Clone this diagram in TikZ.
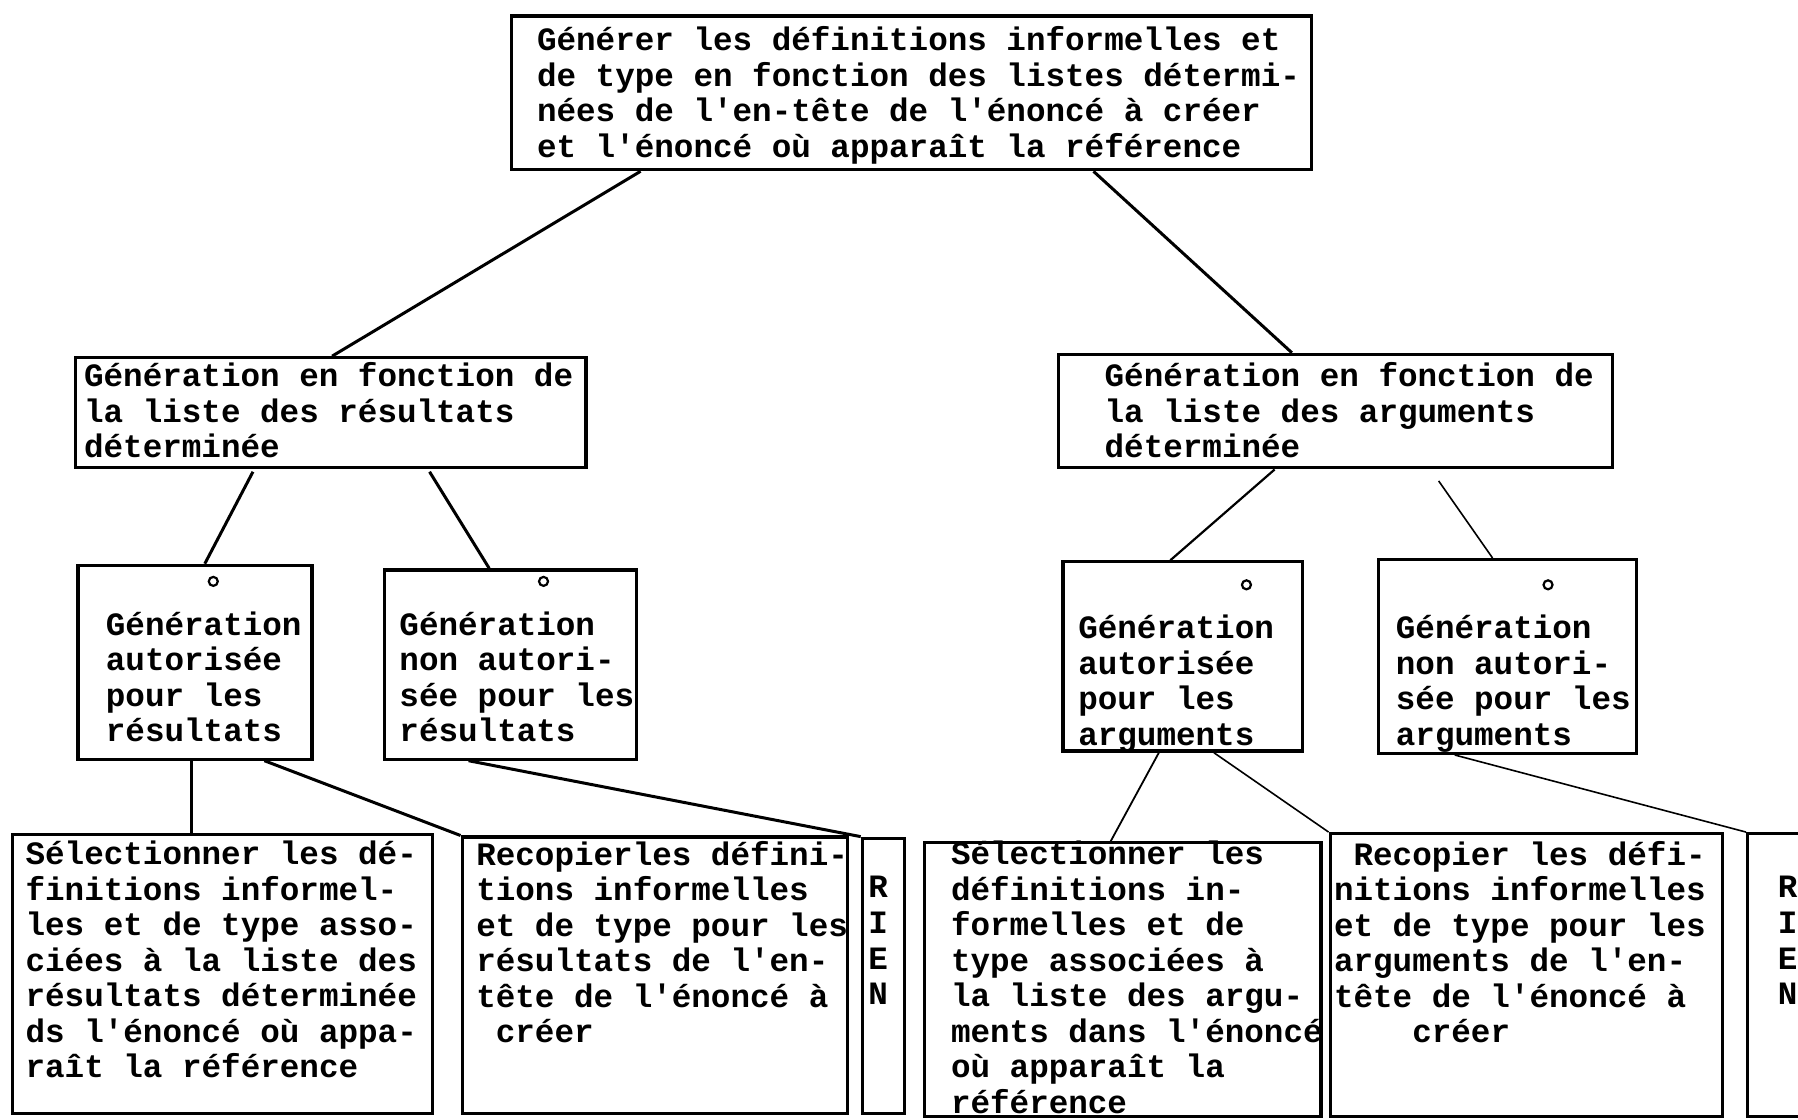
\documentclass[tikz,border=0pt]{standalone}
\usepackage{fontspec}
\usetikzlibrary{fit,calc}
\newfontfamily\tw{Liberation Mono}
\newcommand\twfont{\tw\bfseries\fontsize{16.3pt}{17.77pt}\selectfont}
\newcommand\tstrut{\rule{0pt}{21.2pt}}

\begin{document}
\begin{tikzpicture}[x=0.57335pt, y=-0.57335pt,
  box/.style={draw, line width=1.6pt, inner sep=0pt},
  txt/.style={anchor=north west, inner sep=0pt, align=left, font=\twfont,
    execute at begin node=\tstrut},
  link/.style={line width=1.5pt},
  thinlink/.style={line width=0.8pt},
  ring/.style={circle, draw, line width=1.1pt, minimum size=4.5pt, inner sep=0pt}]

\useasboundingbox (0,0) rectangle (1568,976);
\clip (0,0) rectangle (1568,976);

% ---- boxes ----
\node[box, fit={(446,14) (1144,148)}] (top) {};
\node[box, fit={(66,312) (511,408)}] (midl) {};
\node[box, fit={(923,309) (1406,408)}] (midr) {};

\node[box, fit={(68,493) (272,662)}] (autres) {};
\node[box, fit={(335,497) (555,662)}] (nonres) {};
\node[box, fit={(927,490) (1136,655)}] (autarg) {};
\node[box, fit={(1202,488) (1427,657)}] (nonarg) {};

\node[box, fit={(11,728) (377,971)}] (selres) {};
\node[box, fit={(403,730) (739,971)}] (copres) {};
\node[box, fit={(752,731) (789,971)}] (rienl) {};
\node[box, fit={(806,735) (1152,974)}] (selarg) {};
\node[box, fit={(1160,727) (1502,974)}] (coparg) {};
\node[box, fit={(1524,727) (1600,974)}] (rienr) {};

% ---- small rings ----
\node[ring] (r1) at (186,507) {};
\node[ring] (r2) at (474,507) {};
\node[ring] (r3) at (1087,510) {};
\node[ring] (r4) at (1350,510) {};

% ---- texts ----
\begin{scope}[shift={(0,9)}]
\node[txt] (t-top) at (468,14) {Générer les définitions informelles et\\
de type en fonction des listes détermi-\\
nées de l'en-tête de l'énoncé à créer\\
et l'énoncé où apparaît la référence};

\node[txt] (t-midl) at (73,307) {Génération en fonction de\\
la liste des résultats\\
déterminée};
\node[txt] (t-midr) at (963,307) {Génération en fonction de\\
la liste des arguments\\
déterminée};

\node[txt] (t-autres) at (92,524) {Génération\\autorisée\\pour les\\résultats};
\node[txt] (t-nonres) at (348,524) {Génération\\non autori-\\sée pour les\\résultats};
\node[txt] (t-autarg) at (940,527) {Génération\\autorisée\\pour les\\arguments};
\node[txt] (t-nonarg) at (1217,527) {Génération\\non autori-\\sée pour les\\arguments};

\node[txt] (t-selres) at (22,724) {Sélectionner les dé-\\
finitions informel-\\
les et de type asso-\\
ciées à la liste des\\
résultats déterminée\\
ds l'énoncé où appa-\\
raît la référence};
\node[txt] (t-copres) at (415,724) {Recopierles défini-\\
tions informelles\\
et de type pour les\\
résultats de l'en-\\
tête de l'énoncé à\\
~créer};
\node[txt] (t-rienl) at (757,755) {R\\I\\E\\N};
\node[txt] (t-selarg) at (829,724) {Sélectionner les\\
définitions in-\\
formelles et de\\
type associées à\\
la liste des argu-\\
ments dans l'énoncé\\
où apparaît la\\
référence};
\node[txt] (t-coparg) at (1163,724) {~Recopier les défi-\\
nitions informelles\\
et de type pour les\\
arguments de l'en-\\
tête de l'énoncé à\\
~~~~créer};
\node[txt] (t-rienr) at (1550,755) {R\\I\\E\\N};
\end{scope}

% ---- connectors ----
\draw[link] ($(top.south west)+(114,0)$) -- ($(midl.north west)+(225,0)$);
\draw[link] ($(top.south west)+(509,0)$) -- ($(midr.north west)+(205,0)$);

\draw[link] ($(midl.south west)+(156,2)$) -- ($(autres.north west)+(112,0)$);
\draw[link] ($(midl.south west)+(310,2)$) -- ($(nonres.north west)+(93,0)$);
\draw[link, line width=1.1pt] ($(midr.south west)+(190,0)$) -- ($(autarg.north west)+(95,0)$);
\draw[thinlink] ($(midr.south west)+(333,10)$) -- ($(nonarg.north west)+(101,0)$);

\draw[link] ($(autres.south west)+(100,0)$) -- ($(selres.north west)+(157,0)$);
\draw[link] ($(autres.south west)+(164,0)$) -- (copres.north west);
\draw[link] ($(nonres.south west)+(75,0)$) -- (rienl.north west);

\draw[thinlink, line width=0.9pt] ($(autarg.south west)+(85,0)$) -- ($(selarg.north west)+(164,0)$);
\draw[thinlink] ($(autarg.south west)+(133,0)$) -- (coparg.north west);
\draw[thinlink] ($(nonarg.south west)+(68,0)$) -- (rienr.north west);
\end{tikzpicture}
\end{document}
